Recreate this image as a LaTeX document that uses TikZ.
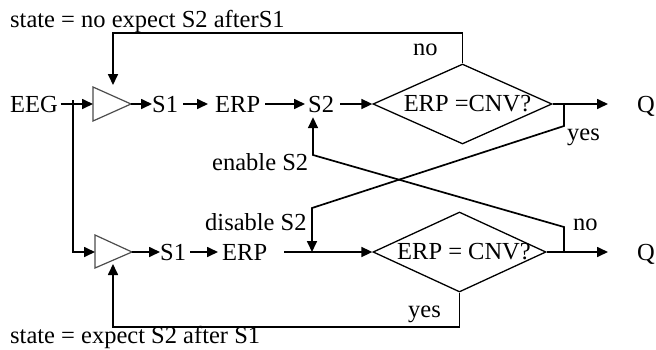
\documentclass[tikz,border=0pt]{standalone}
\usepackage{fontspec}
\setmainfont{Liberation Serif}
\usetikzlibrary{arrows.meta,shapes.geometric}
\begin{document}
\begin{tikzpicture}[x=1pt,y=-1pt,
  font=\fontsize{24.5}{28}\selectfont,
  lbl/.style={inner sep=0pt, anchor=base west},
  box/.style={inner sep=0pt, text height=16pt, text depth=0pt, anchor=base west},
  ln/.style={line width=1.7pt},
  arr/.style={line width=1.7pt, -{Triangle[length=11pt,width=10pt]}},
  dia/.style={diamond, draw, line width=1.3pt, aspect=2.2, inner sep=-8pt},
  amp/.style={draw=black!70, line width=1.2pt}]
\useasboundingbox (0,0) rectangle (656,349);

% labels
\node[lbl] (stateno) at (10,27) {state = no expect S2 afterS1};
\node[lbl] (stateyes) at (10,343) {state = expect S2 after S1};
\node[lbl] (notop) at (413,55) {no};
\node[lbl] (yestop) at (567,140) {yes};
\node[lbl] (enable) at (212,170) {enable S2};
\node[lbl] (disable) at (205,230) {disable S2};
\node[lbl] (nolow) at (573,230) {no};
\node[lbl] (yeslow) at (408,317) {yes};

% top row
\node[box] (eeg) at (10,112) {EEG};
\coordinate (ta1) at (93,87); \coordinate (ta2) at (93,121); \coordinate (ta3) at (131,104);
\coordinate (tin) at (93,104); \coordinate (tout) at (131,104);
\draw[amp] (ta1) -- (ta3) -- (ta2) -- cycle;
\node[box] (s1t) at (152,112) {S1};
\node[box] (erpt) at (215,112) {ERP};
\node[box] (s2t) at (308,112) {S2};
\node[dia, minimum width=179pt, minimum height=80pt] (dtop) at (462.5,104) {\hspace*{10pt}ERP =CNV?};
\node[box] (qt) at (637,112) {Q};

% bottom row
\coordinate (tb1) at (95,235); \coordinate (tb2) at (95,268); \coordinate (tb3) at (132,252);
\coordinate (bin) at (95,252); \coordinate (bout) at (132,252);
\draw[amp] (tb1) -- (tb3) -- (tb2) -- cycle;
\node[box] (s1l) at (160,260) {S1};
\node[box] (erpl) at (222,260) {ERP};
\node[dia, minimum width=173pt, minimum height=80pt] (dlow) at (459.5,252) {\hspace*{9pt}ERP = CNV?};
\node[box] (ql) at (637,260) {Q};

% coordinates for connectors
\coordinate (jn) at (73,104);
\coordinate (jb) at (73,252);
\coordinate (ya) at (564,104);
\coordinate (yb) at (564,126);
\coordinate (yc) at (312,208);
\coordinate (dis) at (312,252);
\coordinate (nb) at (564,252);
\coordinate (nb2) at (564,227);
\coordinate (en) at (313,155);
\coordinate (nt1) at (462.5,33);
\coordinate (nt2) at (113,33);
\coordinate (nt3) at (113,85);
\coordinate (yl1) at (459.5,327);
\coordinate (yl2) at (113,327);
\coordinate (yl3) at (113,264);

% top row connectors
\draw[arr, shorten <=2.5pt] (eeg.east) -- (tin);
\draw[ln] (73,100) -- (jn);
\draw[arr] (jn) -- (jb) -- (bin);
\draw[arr] (tout) -- (s1t.west);
\draw[arr, shorten <=5pt, shorten >=7pt] (s1t.east) -- (erpt.west);
\draw[arr, shorten <=5pt, shorten >=3pt] (erpt.east) -- (s2t.west);
\draw[arr, shorten <=6pt] (s2t.east) -- (dtop.west);
\draw[arr, shorten >=29pt] (dtop.east) -- (qt.west);

% bottom row connectors
\draw[arr] (bout) -- (s1l.west);
\draw[arr, shorten <=4pt, shorten >=4pt] (s1l.east) -- (erpl.west);
\draw[arr, shorten <=17pt] (erpl.east) -- (dlow.west);
\draw[arr, shorten >=29pt] (dlow.east) -- (ql.west);

% feedback
\draw[arr] (dtop.north) -- (nt1) -- (nt2) -- (nt3);
\draw[arr] (dlow.south) -- (yl1) -- (yl2) -- (yl3);
\draw[arr] (ya) -- (yb) -- (yc) -- (dis);
\draw[arr, shorten >=5pt] (nb) -- (nb2) -- (en) -- (en |- s2t.south);
\end{tikzpicture}
\end{document}
